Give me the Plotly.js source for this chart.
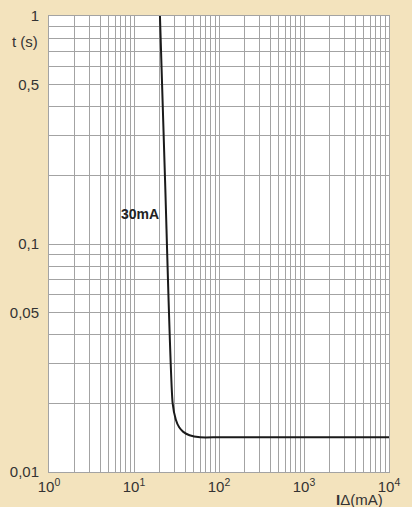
<!DOCTYPE html>
<html><head><meta charset="utf-8">
<script src="https://cdn.plot.ly/plotly-3.0.1.min.js"></script>
<style>html,body{margin:0;padding:0;background:#f3e3bd;}</style>
</head><body><div id="chart" style="width:412px;height:507px;"></div>
<script>
// Tripping curve 30mA
const currentMA = [20.2, 23.2, 28.5, 31, 34, 38, 45, 60, 100, 1000, 10000];
const timeS = [1, 0.19, 0.02, 0.017, 0.0157, 0.015, 0.0145, 0.0142, 0.0142, 0.0142, 0.0142];
const curveLabel = '30mA';

const xTickVals = [];
const xTickText = [];
const xDecadeLabels = {0:'10<sup>0</sup>',1:'10<sup>1</sup>',2:'10<sup>2</sup>',3:'10<sup>3</sup>',4:'10<sup>4</sup>'};
for (let d = 0; d <= 3; d++) for (let m = 1; m <= 9; m++) {
  xTickVals.push(m * Math.pow(10, d));
  xTickText.push(m === 1 ? xDecadeLabels[d] : '');
}
xTickVals.push(10000); xTickText.push(xDecadeLabels[4]);

const yLabeled = {0.01:'0,01', 0.05:'0,05', 0.1:'0,1', 0.5:'0,5', 1:'1'};
const yTickVals = [];
const yTickText = [];
for (let d = -2; d <= -1; d++) for (let m = 1; m <= 9; m++) {
  const v = +(m * Math.pow(10, d)).toFixed(4);
  yTickVals.push(v);
  yTickText.push(yLabeled[v] || '');
}
yTickVals.push(1); yTickText.push('1');

const font = {family: 'Liberation Sans, Arial, sans-serif', size: 14, color: '#333'};
const tickFont = {family: font.family, size: 15, color: '#333'};

Plotly.newPlot('chart', [{
  x: currentMA, y: timeS, type: 'scatter', mode: 'lines',
  line: {color: '#1a1a1a', width: 2, shape: 'spline', smoothing: 0.6},
  hoverinfo: 'skip'
}], {
  width: 412, height: 507,
  margin: {l: 49, r: 23, t: 16, b: 35},
  paper_bgcolor: '#f3e3bd', plot_bgcolor: '#ffffff',
  font: font, showlegend: false,
  xaxis: {type: 'log', range: [0, 4], tickmode: 'array', tickvals: xTickVals, ticktext: xTickText, tickfont: tickFont,
    showgrid: true, gridcolor: '#a3a3a3', gridwidth: 1, zeroline: false,
    showline: true, linecolor: '#a3a3a3', linewidth: 1, mirror: true, ticks: '', ticklabelstandoff: 1},
  yaxis: {type: 'log', range: [-2, 0], tickmode: 'array', tickvals: yTickVals, ticktext: yTickText, tickfont: tickFont,
    showgrid: true, gridcolor: '#a3a3a3', gridwidth: 1, zeroline: false,
    showline: true, linecolor: '#a3a3a3', linewidth: 1, mirror: true, ticks: '', ticklabelstandoff: 6},
  annotations: [
    {text: 't (s)', xref: 'paper', yref: 'paper', x: -0.072, y: 0.943, xanchor: 'center', yanchor: 'middle', showarrow: false, font: tickFont},
    {text: '<b>I</b>Δ(mA)', xref: 'paper', yref: 'paper', x: 0.912, y: -0.06, xanchor: 'center', yanchor: 'middle', showarrow: false, font: tickFont},
    {text: '<b>' + curveLabel + '</b>', xref: 'paper', yref: 'paper', x: 0.268, y: 0.566, xanchor: 'center', yanchor: 'middle', showarrow: false, font: {family: font.family, size: 14, color: '#222'}}
  ]
}, {displayModeBar: false, staticPlot: true});
</script></body></html>
